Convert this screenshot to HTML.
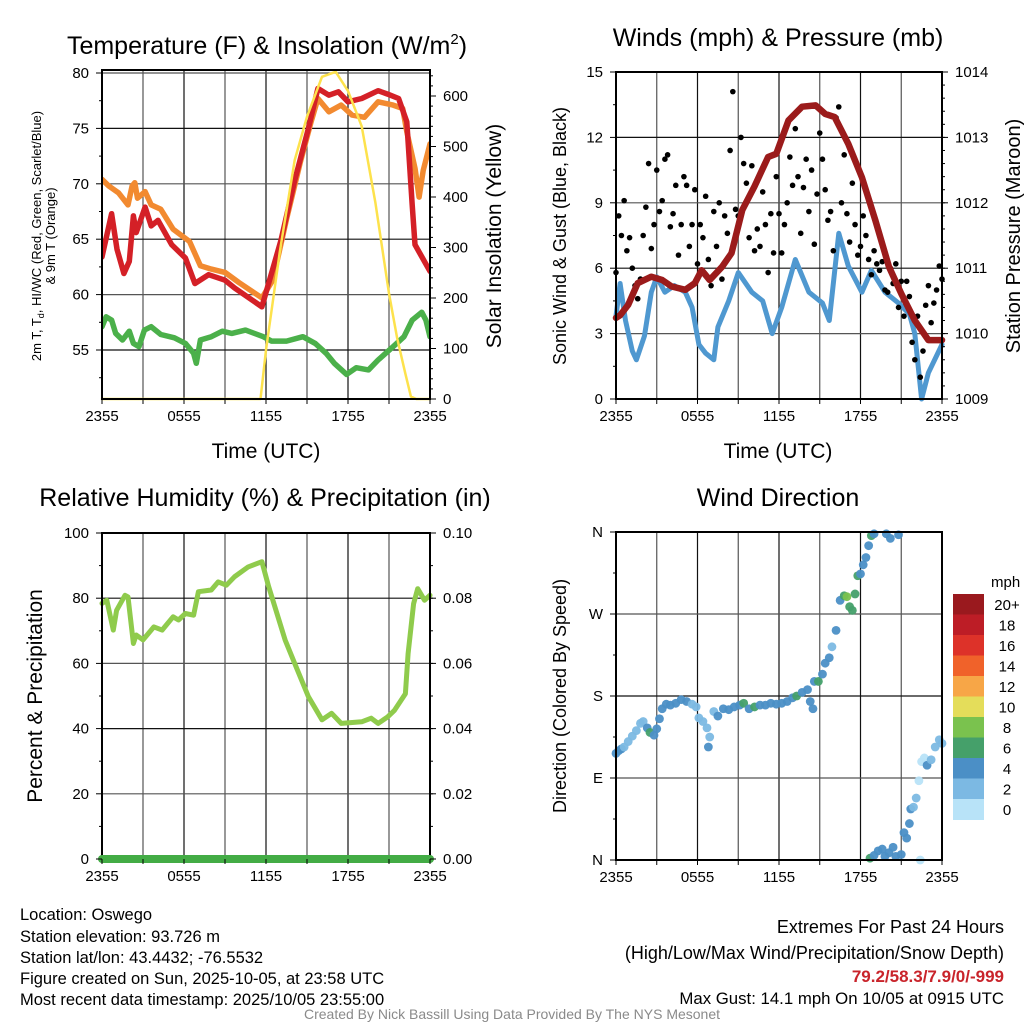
<!DOCTYPE html>
<html><head><meta charset="utf-8"><style>
html,body{margin:0;padding:0;background:#fff;}
svg{display:block;font-family:"Liberation Sans",Arial,sans-serif;}
</style></head><body>
<svg id="c" width="1024" height="1024" viewBox="0 0 1024 1024" xmlns="http://www.w3.org/2000/svg">
<g id="root"></g>
<g font-size="25" text-anchor="middle" fill="#000">
<text x="267" y="54">Temperature (F) &amp; Insolation (W/m<tspan font-size="15" dy="-10">2</tspan><tspan dy="10">)</tspan></text>
<text x="778" y="46">Winds (mph) &amp; Pressure (mb)</text>
<text x="265" y="506">Relative Humidity (%) &amp; Precipitation (in)</text>
<text x="778" y="506">Wind Direction</text>
</g>
<g font-size="21" text-anchor="middle">
<text x="266" y="458">Time (UTC)</text>
<text x="778" y="458">Time (UTC)</text>
</g>
<g font-size="13" text-anchor="middle">
<text transform="translate(41,236) rotate(-90)">2m T, T<tspan font-size="9" dy="3">d</tspan><tspan dy="-3">, HI/WC (Red, Green, Scarlet/Blue)</tspan></text>
<text transform="translate(55,236) rotate(-90)">&amp; 9m T (Orange)</text>
</g>
<text font-size="21" text-anchor="middle" transform="translate(501,236) rotate(-90)">Solar Insolation (Yellow)</text>
<text font-size="18" text-anchor="middle" transform="translate(566,236) rotate(-90)">Sonic Wind &amp; Gust (Blue, Black)</text>
<text font-size="20" text-anchor="middle" transform="translate(1020,236) rotate(-90)">Station Pressure (Maroon)</text>
<text font-size="21" text-anchor="middle" transform="translate(42,696) rotate(-90)">Percent &amp; Precipitation</text>
<text font-size="18" text-anchor="middle" transform="translate(566,696) rotate(-90)">Direction (Colored By Speed)</text>
<g font-size="16.5" fill="#000">
<text x="20" y="920">Location: Oswego</text>
<text x="20" y="942">Station elevation: 93.726 m</text>
<text x="20" y="963">Station lat/lon: 43.4432; -76.5532</text>
<text x="20" y="984">Figure created on Sun, 2025-10-05, at 23:58 UTC</text>
<text x="20" y="1005">Most recent data timestamp: 2025/10/05 23:55:00</text>
</g>
<g font-size="18" text-anchor="end">
<text x="1004" y="933">Extremes For Past 24 Hours</text>
<text x="1004" y="959">(High/Low/Max Wind/Precipitation/Snow Depth)</text>
<text x="1004" y="982" fill="#c9242b" font-weight="bold" font-size="17">79.2/58.3/7.9/0/-999</text>
<text x="1004" y="1004" font-size="16.8">Max Gust: 14.1 mph On 10/05 at 0915 UTC</text>
</g>
<text x="512" y="1019" font-size="14" fill="#8a8a8a" text-anchor="middle">Created By Nick Bassill Using Data Provided By The NYS Mesonet</text>
</svg>
<script>
// ---- data ----
const xTickLabels = ["2355","0555","1155","1755","2355"];
const tempTickLabels = [55,60,65,70,75,80];
const solarTickLabels = [0,100,200,300,400,500,600];
const windTickLabels = [0,3,6,9,12,15];
const pressTickLabels = [1009,1010,1011,1012,1013,1014];
const rhTickLabels = [0,20,40,60,80,100];
const precipTickLabels = ["0.00","0.02","0.04","0.06","0.08","0.10"];
const dirTickLabels = ["N","E","S","W","N"];
const speedBins = ["0","2","4","6","8","10","12","14","16","18","20+"];
const speedColors = ["#b8e3f8","#7cb9e3","#4b8fc6","#45a06a","#7ac24e","#e4dd5a","#f7a647","#f0622a","#dd3229","#bd1d26","#9a191e"];

const tempHours = [0,0.7,1.1,1.6,2.0,2.3,2.5,3.15,3.6,4.1,5.1,6.1,6.8,7.8,9.0,9.7,11.7,13.1,14.1,15.1,15.8,16.6,17.3,18.0,19.0,20.2,20.9,21.7,22.3,22.7,22.9,24];
const tempValues = [63.4,67.3,64.1,61.9,63.0,67.1,65.6,67.9,66.2,66.7,64.5,63.3,61.0,61.8,61.3,60.6,58.9,64.9,70.3,75.0,78.6,78.0,78.3,77.4,77.7,78.4,78.1,77.7,75.6,68.1,64.5,62.1];
const t9Hours = [0,0.5,1.2,1.9,2.2,2.4,2.6,3.15,3.6,4.3,5.2,6.4,7.2,8.0,9.0,10.0,11.7,12.5,13.5,14.5,15.3,15.8,16.6,17.5,18.3,19.2,20.2,21.3,22.0,22.3,22.9,23.2,23.5,24];
const t9Values = [70.4,69.8,69.2,68.1,69.8,70.1,68.7,69.3,68.1,67.7,65.9,64.8,62.6,62.3,62.0,61.1,59.7,61.3,66.8,71.9,75.6,77.7,76.5,77.1,76.2,76.0,77.4,77.1,76.8,74.7,71.4,68.8,71.2,73.6];
const dewHours = [0,0.3,0.7,1.0,1.5,2.0,2.3,2.7,3.1,3.6,4.3,5.3,6.1,6.7,6.9,7.2,8.0,8.8,9.5,10.5,11.8,12.4,13.5,14.7,15.6,16.4,17.0,17.9,18.6,19.5,20.2,21.3,22.1,22.7,23.4,23.7,24];
const dewValues = [57.1,58.0,57.7,56.5,55.9,56.7,55.6,55.3,56.8,57.1,56.4,56.1,55.6,54.7,53.8,55.9,56.2,56.7,56.5,56.8,56.2,55.8,55.8,56.2,55.6,54.7,53.8,52.8,53.4,53.2,54.1,55.3,56.2,57.7,58.4,57.7,56.2];
const solarHours = [0,11.6,12.0,13,14.1,15,16.1,17.1,18,19,20,21,21.6,22.2,22.6,23,24];
const solarValues = [0,0,97,290,473,559,638,648,610,540,390,209,120,50,5,0,0];

const pressHours = [0,0.3,0.9,1.6,2.6,3.4,4.1,5.1,5.8,6.3,6.9,7.8,8.5,9.3,10.2,11.2,11.8,12.7,13.7,14.7,15.4,16.1,17.1,18.1,19.1,20.1,21.0,22.0,23.0,24];
const pressValues = [1010.24,1010.28,1010.44,1010.77,1010.87,1010.82,1010.72,1010.67,1010.77,1010.97,1010.82,1011.02,1011.23,1011.89,1012.25,1012.70,1012.75,1013.26,1013.47,1013.49,1013.36,1013.31,1012.90,1012.39,1011.73,1011.02,1010.61,1010.20,1009.90,1009.90];
const windHours = [0,0.3,0.7,1.2,1.5,2.1,2.6,3.0,3.6,4.3,5.1,5.6,6.1,6.6,7.2,7.5,8.3,9.0,10.0,10.8,11.5,12.2,13.2,14.2,15.2,15.7,16.4,17.1,18.1,18.8,19.8,20.8,21.6,22.0,22.5,23.0,24];
const windValues = [3.8,5.3,3.6,2.2,1.8,2.9,4.9,5.6,4.9,5.2,4.9,4.2,2.5,2.1,1.8,3.3,4.5,5.8,4.9,4.5,3.0,4.2,6.4,4.9,4.4,3.6,7.6,6.1,4.9,5.9,4.9,4.4,3.9,3.0,0,1.2,2.5];
const gustValues = [5.8,8.4,7.5,9.1,6.8,7.4,6.0,5.2,4.6,5.5,7.5,
8.8,10.8,6.9,8.0,10.5,8.6,9.1,11.0,11.2,7.9,
8.5,9.8,6.6,8.0,10.2,9.8,7.0,8.0,9.6,6.2,
8.0,7.4,9.3,6.4,5.2,8.6,7.0,9.0,5.5,8.4,
7.6,11.4,14.1,8.7,8.4,12.0,10.8,9.9,7.4,10.7,
6.8,7.8,7.0,9.5,8.0,5.8,8.5,6.7,10.2,8.5,
6.7,8.0,9.0,11.1,9.8,12.4,10.2,7.6,9.7,11.0,
8.6,10.5,7.1,9.4,12.2,11.0,9.6,8.2,8.6,6.8,
12.9,13.4,9.0,11.2,8.5,7.2,9.9,8.0,6.6,7.0,
8.4,7.5,6.4,5.7,6.8,6.2,5.9,6.3,5.0,4.9,
6.0,5.3,6.2,4.2,5.4,3.8,5.4,4.7,2.6,1.8,
3.8,1.0,2.2,4.3,5.2,3.5,4.4,5.0,6.1,5.5];

const rhHours = [0,0.35,0.83,1.07,1.68,1.9,2.3,2.5,3.0,3.8,4.4,5.2,5.6,6.1,6.7,7.05,8.0,8.5,9.1,9.7,10.7,11.7,12.2,13.4,14.1,15.1,16.1,16.8,17.5,19.0,19.7,20.2,20.9,21.4,22.2,22.4,22.8,23.1,23.6,24];
const rhValues = [78.4,79.4,70.2,76.3,80.9,80.4,66.1,68.7,67.2,71.2,70.2,74.3,73.3,75.3,74.8,82.0,82.5,85.0,84.0,86.6,89.6,91.2,83.5,67.2,60.0,49.8,42.7,44.7,41.6,42.1,43.2,41.6,43.6,45.6,50.7,63.0,78.3,82.9,79.4,80.9];
const precipHours = [0,24];
const precipValues = [0,0];

const dirHours = [0,0.2,0.4,0.6,0.9,1.2,1.5,1.8,2.0,2.3,2.5,2.8,3.0,3.2,3.4,3.7,4.0,4.4,4.8,5.2,5.6,5.9,6.1,6.4,6.7,6.8,6.9,7.2,7.5,7.9,8.3,8.7,9.1,9.4,9.8,10.2,10.6,11.0,11.4,11.8,12.2,12.6,13.0,13.3,13.7,14.1,14.3,14.5,14.6,14.9,15.2,15.4,15.7,15.9,16.2,16.5,16.8,17.0,17.2,17.4,17.6,17.8,18.0,18.2,18.4,18.6,18.8,19.0,19.9,20.2,20.8,18.7,19.0,19.3,19.6,19.8,20.1,20.4,20.6,21.0,21.2,21.4,21.6,21.7,21.9,22.1,22.3,22.5,22.7,22.9,23.2,23.5,23.8,24.0,22.4];
const dirValues = [117,120,122,124,130,136,142,150,152,145,140,137,144,155,166,171,170,172,176,174,171,168,156,152,145,124,135,163,158,166,165,168,170,172,166,168,170,170,172,171,172,174,178,180,184,187,174,166,196,196,204,216,222,234,252,285,290,289,278,274,292,312,314,324,332,345,356,358,358,353,357,2,5,10,12,4,8,14,4,6,30,24,40,56,58,68,87,108,112,104,110,124,132,128,0];
const dirSpeeds = [4,4,4,3,3,3,3,3,3,4,6,4,4,4,4,4,4,4,4,4,3,3,3,3,3,4,3,3,4,4,4,4,4,6,4,6,4,4,4,4,4,4,4,6,4,4,4,4,4,6,4,4,4,2,4,4,6,8,6,6,6,6,4,4,4,4,6,4,4,4,4,6,4,4,4,4,4,4,4,4,4,4,4,4,3,3,1,1,0,4,3,3,3,3,1];

// ---- helpers ----
const NS = "http://www.w3.org/2000/svg";
const root = document.getElementById('root');
function el(tag, attrs, parent){const e=document.createElementNS(NS,tag);for(const k in attrs)e.setAttribute(k,attrs[k]);(parent||root).appendChild(e);return e;}
function lin(d0,d1,r0,r1){return v=>r0+(v-d0)*(r1-r0)/(d1-d0);}

function panel(L,R,T,B,name){
  const g=el('g',{});
  
  
  return g;
}
function grid(g,L,R,T,B,xs,ys){
  xs.forEach((x,i)=>{const l=el('line',{x1:x,x2:x,y1:T,y2:B,stroke:i%2?'#555':'#111','stroke-width':1.2},g);
    
    });
  ys.forEach((y,i)=>{const l=el('line',{x1:L,x2:R,y1:y,y2:y,stroke:i%2?'#555':'#111','stroke-width':1.2},g);
    
    });
}
function frame(g,L,R,T,B){
  const r=el('rect',{x:L,y:T,width:R-L,height:B-T,fill:'none',stroke:'#000','stroke-width':2},g);
  
  
}
function xAxis(g,L,R,B,sx){
  for(let h=0;h<=24;h+=3){el('line',{x1:sx(h),x2:sx(h),y1:B,y2:B+5,stroke:'#000','stroke-width':1},g);}
  xTickLabels.forEach((t,i)=>{const tx=el('text',{x:sx(i*6),y:B+22,'font-size':15,'text-anchor':'middle'},g);tx.textContent=t;
    
    });
}
function yAxisLeft(g,L,labels,vals,sy,minor){
  labels.forEach((t,i)=>{const y=sy(vals[i]);el('line',{x1:L-6,x2:L,y1:y,y2:y,stroke:'#000'},g);
    const tx=el('text',{x:L-13,y:y+5,'font-size':15,'text-anchor':'end'},g);tx.textContent=t;
    
    });
  if(minor) minor.forEach(v=>{const y=sy(v);el('line',{x1:L-3,x2:L,y1:y,y2:y,stroke:'#000'},g);});
}
function yAxisRight(g,R,labels,vals,sy,minor){
  labels.forEach((t,i)=>{const y=sy(vals[i]);el('line',{x1:R,x2:R+6,y1:y,y2:y,stroke:'#000'},g);
    const tx=el('text',{x:R+13,y:y+5,'font-size':15,'text-anchor':'start'},g);tx.textContent=t;
    
    });
  if(minor) minor.forEach(v=>{const y=sy(v);el('line',{x1:R,x2:R+3,y1:y,y2:y,stroke:'#000'},g);});
}
function line(g,hs,vs,sx,sy,color,w,name,clip){
  const d=hs.map((h,i)=>(i?'L':'M')+sx(h).toFixed(1)+','+sy(vs[i]).toFixed(1)).join(' ');
  const p=el('path',{d:d,fill:'none',stroke:color,'stroke-width':w,'stroke-linejoin':'round','stroke-linecap':'round'},g);
  if(clip)p.setAttribute('clip-path',clip);
  
  
  return p;
}
function range(a,b,s){const r=[];for(let v=a;v<=b+1e-9;v+=s)r.push(+v.toFixed(4));return r;}

const defs=el('defs',{});
function clipRect(id,L,R,T,B){const c=el('clipPath',{id:id},defs);el('rect',{x:L,y:T,width:R-L,height:B-T},c);}

// ---- Panel 1: temperature ----
{
  const L=102,R=430,T=70,B=399;
  const sx=lin(0,24,L,R), sy=lin(80,55,73,350), sS=lin(0,600,399,96);
  const g=panel(L,R,T,B,'temperature-panel');
  clipRect('c1',L,R,T,B);
  grid(g,L,R,T,B,range(0,24,3).map(sx),tempTickLabels.map(sy));
  el('line',{x1:L,x2:R,y1:70,y2:70,stroke:'#444','stroke-width':1},g);
  line(g,dewHours,dewValues,sx,sy,'#4bb04a',5.5,'dewpoint-line','url(#c1)');
  line(g,t9Hours,t9Values,sx,sy,'#f28a30',5.5,'temp-9m-line','url(#c1)');
  line(g,tempHours,tempValues,sx,sy,'#d42027',5.5,'temp-2m-line','url(#c1)');
  line(g,solarHours,solarValues,sx,sS,'#fde24c',2.5,'solar-line');
  frame(g,L,R,T,B);
  xAxis(g,L,R,B,sx);
  yAxisLeft(g,L,tempTickLabels,tempTickLabels,sy,range(52.5,77.5,5));
  yAxisRight(g,R,solarTickLabels,solarTickLabels,sS,range(0,640,20));
}
// ---- Panel 2: winds ----
{
  const L=616,R=942,T=72,B=399;
  const sx=lin(0,24,L,R), sy=lin(0,15,399,72), sp=lin(1009,1014,399,72);
  const g=panel(L,R,T,B,'wind-panel');
  grid(g,L,R,T,B,range(0,24,3).map(sx),windTickLabels.map(sy));
  line(g,windHours,windValues,sx,sy,'#4f98d0',5,'wind-speed-line');
  gustValues.forEach((v,i)=>{const c=el('circle',{cx:sx(i*0.2),cy:sy(v),r:2.8,fill:'#000'},g);
    
    });
  line(g,pressHours,pressValues,sx,sp,'#9b1b1b',6.5,'pressure-line');
  frame(g,L,R,T,B);
  xAxis(g,L,R,B,sx);
  yAxisLeft(g,L,windTickLabels,windTickLabels,sy,range(1.5,13.5,3));
  yAxisRight(g,R,pressTickLabels,pressTickLabels,sp,range(1009,1014,0.2));
}
// ---- Panel 3: RH ----
{
  const L=102,R=430,T=533,B=859;
  const sx=lin(0,24,L,R), sy=lin(0,100,B,T), sP=lin(0,0.1,B,T);
  const g=panel(L,R,T,B,'humidity-panel');
  grid(g,L,R,T,B,range(0,24,3).map(sx),rhTickLabels.map(sy));
  line(g,rhHours,rhValues,sx,sy,'#8fcb4c',5,'rh-line');
  frame(g,L,R,T,B);
  line(g,precipHours,precipValues,sx,sP,'#43ac45',8,'precip-line');
  xAxis(g,L,R,B,sx);
  yAxisLeft(g,L,rhTickLabels,rhTickLabels,sy,range(10,90,20));
  yAxisRight(g,R,precipTickLabels,[0,0.02,0.04,0.06,0.08,0.1],sP,range(0,0.1,0.01));
}
// ---- Panel 4: wind direction ----
{
  const L=616,R=942,T=532,B=860;
  const sx=lin(0,24,L,R), sy=lin(0,360,B,T);
  const g=panel(L,R,T,B,'direction-panel');
  grid(g,L,R,T,B,range(0,24,3).map(sx),[0,90,180,270,360].map(sy));
  dirHours.forEach((h,i)=>{const bin=Math.min(10,Math.floor(dirSpeeds[i]/2));
    const c=el('circle',{cx:sx(h),cy:sy(dirValues[i]),r:4.4,fill:speedColors[bin],'fill-opacity':0.95},g);
    
    });
  frame(g,L,R,T,B);
  xAxis(g,L,R,B,sx);
  yAxisLeft(g,L,dirTickLabels,[0,90,180,270,360],sy,[45,135,225,315]);
  const cb=el('g',{});
  
  
  const cbTop=594,cbH=20.5;
  const u=el('text',{x:991,y:587,'font-size':15},cb);u.textContent='mph';
  speedBins.forEach((lab,i)=>{const k=10-i;const y=cbTop+i*cbH;
    const r=el('rect',{x:953,y:y,width:31,height:cbH+0.5,fill:speedColors[k]},cb);
    
    
    const t=el('text',{x:1007,y:y+16,'font-size':15,'text-anchor':'middle'},cb);t.textContent=speedBins[k];
    
    });
}
</script>
</body></html>
